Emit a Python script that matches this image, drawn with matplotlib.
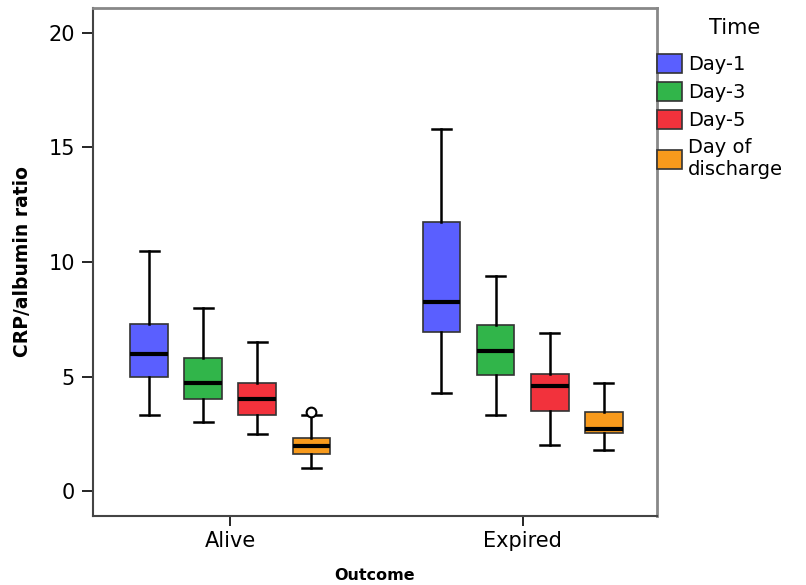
import matplotlib
matplotlib.use("Agg")
import matplotlib.pyplot as plt
from matplotlib.patches import Patch

plt.rcParams['font.family'] = ['DejaVu Sans']

outcomes = ["Alive", "Expired"]
times = ["Day-1", "Day-3", "Day-5", "Day of\ndischarge"]
colors = ["#5A5FFF", "#31B54A", "#F2323C", "#F89A1C"]

# per outcome, per time: (lower whisker, Q1, median, Q3, upper whisker)
whislo = [[3.3, 3.0, 2.5, 1.0], [4.3, 3.3, 2.0, 1.8]]
q1 = [[5.0, 4.0, 3.3, 1.6], [6.95, 5.05, 3.5, 2.55]]
med = [[6.0, 4.7, 4.0, 1.95], [8.25, 6.1, 4.6, 2.7]]
q3 = [[7.3, 5.8, 4.7, 2.3], [11.75, 7.25, 5.1, 3.45]]
whishi = [[10.5, 8.0, 6.5, 3.3], [15.8, 9.4, 6.9, 4.7]]
outliers = [[[], [], [], [3.45]], [[], [], [], []]]

fig = plt.figure(figsize=(8.06, 5.85), dpi=100)
ax = fig.add_axes([93/806, 1-516/585, (657-93)/806, (516-8)/585])

slot = 0.185
for gi in range(len(outcomes)):
    for ti in range(len(times)):
        pos = gi + (ti - 1.5) * slot
        st = [dict(whislo=whislo[gi][ti], q1=q1[gi][ti], med=med[gi][ti],
                   q3=q3[gi][ti], whishi=whishi[gi][ti], fliers=outliers[gi][ti])]
        ax.bxp(st, positions=[pos], widths=slot*0.7, patch_artist=True,
               boxprops=dict(facecolor=colors[ti], edgecolor="#333333", linewidth=1.2),
               medianprops=dict(color="black", linewidth=3),
               whiskerprops=dict(color="black", linewidth=1.8),
               capprops=dict(color="black", linewidth=1.8),
               capwidths=slot*0.35,
               flierprops=dict(marker="o", markerfacecolor="white", markeredgecolor="black",
                               markersize=7, markeredgewidth=1.5),
               manage_ticks=False)

ax.set_xlim(-0.47, 1.46)
ax.set_ylim(-1.09, 21.09)
ax.set_xticks(range(len(outcomes)))
ax.set_xticklabels(outcomes, fontsize=15)
ax.set_yticks([0, 5, 10, 15, 20])
ax.tick_params(axis='y', labelsize=15, length=8, width=1.2, direction='out', pad=5)
ax.tick_params(axis='x', length=7, width=1.2, direction='out', pad=4)
for s in ax.spines.values():
    s.set_linewidth(1.5)
    s.set_color("#444444")
ax.spines['top'].set_color("#888888")
ax.spines['top'].set_linewidth(2)
ax.spines['right'].set_color("#888888")
ax.spines['right'].set_linewidth(2)
ax.set_ylabel("CRP/albumin ratio", fontsize=13.5, fontweight='bold', labelpad=12)
ax.set_xlabel("Outcome", fontsize=11.5, fontweight='bold', labelpad=12)

handles = [Patch(facecolor=c, edgecolor="#333333", linewidth=1.2, label=t) for c, t in zip(colors, times)]
leg = fig.legend(handles=handles, loc="upper left",
                 bbox_to_anchor=(657/806, 1-54/585), frameon=False,
                 fontsize=14, handlelength=1.3, handleheight=1.15,
                 handletextpad=0.3, labelspacing=0.4, borderaxespad=0, borderpad=0.0)
fig.text(735/806, 1-28/585, "Time", fontsize=15, ha="center", va="center")
fig.savefig("out.png", dpi=100)
